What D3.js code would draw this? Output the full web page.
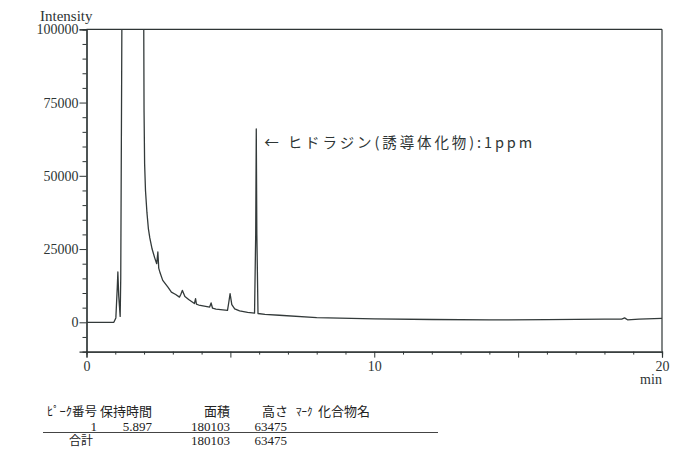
<!DOCTYPE html>
<html><head><meta charset="utf-8">
<script src="https://cdn.jsdelivr.net/npm/d3@7"></script>
<style>
html,body{margin:0;padding:0;background:#fff;}
svg{display:block;}
</style></head>
<body><svg id="c" width="680" height="451"></svg>
<script>
// ---- data ----
const timesMin = [0, 0.95, 1.02, 1.07, 1.09, 1.12, 1.17, 1.19, 1.22, 1.25, 1.95, 1.99, 2.0, 2.02, 2.05, 2.1, 2.15, 2.2, 2.28, 2.37, 2.44, 2.48, 2.51, 2.56, 2.65, 2.83, 2.95, 3.1, 3.23, 3.28, 3.33, 3.42, 3.55, 3.75, 3.79, 3.82, 3.9, 4.0, 4.28, 4.33, 4.38, 4.5, 4.9, 4.94, 4.99, 5.05, 5.15, 5.32, 5.6, 5.84, 5.88, 5.9, 5.92, 5.96, 6.2, 6.7, 8, 10, 12, 14, 16, 18, 18.6, 18.7, 18.8, 19.2, 20];
const intensity = [0, 0, 1500, 12000, 17200, 9000, 2000, 15000, 80000, 150000, 150000, 100000, 72000, 54000, 45000, 37500, 32000, 28800, 25000, 22000, 20000, 24000, 18500, 16800, 14300, 12000, 10300, 9500, 8600, 9600, 10900, 8800, 7800, 6400, 8100, 6200, 5900, 5700, 5200, 6600, 4800, 4500, 4100, 6500, 9800, 6000, 4600, 3900, 3400, 3100, 30000, 66000, 30000, 3000, 2700, 2400, 1600, 1150, 950, 800, 900, 1050, 1100, 1500, 850, 1100, 1350];
const yMajorTicks = [0, 25000, 50000, 75000, 100000];
const xLabelTicks = [0, 10, 20];
const annotation = "← ヒドラジン(誘導体化物):1ppm";
const tableHeader = ["ﾋﾟｰｸ番号", "保持時間", "面積", "高さ", "ﾏｰｸ", "化合物名"];
const peakRow = ["1", "5.897", "180103", "63475"];
const totalRow = ["合計", "180103", "63475"];

// ---- drawing ----
const svg = d3.select("#c");
const ink = "#2e3535";
const serif = "'Liberation Serif', 'DejaVu Serif', serif";
const jp = "'Noto Sans CJK JP', sans-serif";

const x = d3.scaleLinear().domain([0, 20]).range([86.5, 662]);
const y = d3.scaleLinear().domain([-10000, 100000]).range([351.6, 29.3]);

// frame (top and right)
svg.append("line").attr("x1", x(0)).attr("x2", x(20)).attr("y1", y(100000)).attr("y2", y(100000))
  .attr("stroke", ink).attr("stroke-width", 1.2);
svg.append("line").attr("x1", x(20)).attr("x2", x(20)).attr("y1", y(100000)).attr("y2", y(-10000))
  .attr("stroke", ink).attr("stroke-width", 1.2);

// y axis
const yMinor = d3.range(-10000, 100001, 5000).filter(v => !yMajorTicks.includes(v) && v > -10000);
const gyMinor = svg.append("g").attr("transform", `translate(${x(0)},0)`)
  .call(d3.axisLeft(y).tickValues(yMinor).tickSize(4).tickFormat(""));
const gy = svg.append("g").attr("transform", `translate(${x(0)},0)`)
  .call(d3.axisLeft(y).tickValues(yMajorTicks).tickSize(7).tickPadding(1).tickFormat(d3.format("d")));
[gyMinor, gy].forEach(g => {
  g.select(".domain").attr("stroke", ink).attr("stroke-width", 1.2);
  g.selectAll(".tick line").attr("stroke", ink);
});
gy.selectAll(".tick text").attr("font-family", serif).attr("font-size", 14).attr("fill", ink);

// x axis
const xMinor = d3.range(0, 21, 1).filter(v => v % 5 !== 0);
const gxMinor = svg.append("g").attr("transform", `translate(0,${y(-10000)})`)
  .call(d3.axisBottom(x).tickValues(xMinor).tickSize(3).tickFormat(""));
const gx = svg.append("g").attr("transform", `translate(0,${y(-10000)})`)
  .call(d3.axisBottom(x).tickValues([0, 5, 10, 15, 20]).tickSize(6).tickPadding(3)
    .tickFormat(d => xLabelTicks.includes(d) ? d : ""));
[gxMinor, gx].forEach(g => {
  g.select(".domain").attr("stroke", ink).attr("stroke-width", 1.2);
  g.selectAll(".tick line").attr("stroke", ink);
});
gx.selectAll(".tick text").attr("font-family", serif).attr("font-size", 14).attr("fill", ink);

svg.append("text").attr("x", 651).attr("y", 384).attr("text-anchor", "middle")
  .attr("font-family", serif).attr("font-size", 14).attr("fill", ink).text("min");
svg.append("text").attr("x", 40).attr("y", 20.5)
  .attr("font-family", serif).attr("font-size", 15).attr("fill", ink).text("Intensity");

// clip & line
svg.append("clipPath").attr("id", "clip").append("rect")
  .attr("x", x(0)).attr("y", y(100000)).attr("width", x(20) - x(0)).attr("height", y(-10000) - y(100000));
const pts = timesMin.map((t, i) => [t, intensity[i]]);
svg.append("path").datum(pts).attr("clip-path", "url(#clip)")
  .attr("fill", "none").attr("stroke", "#333a3a").attr("stroke-width", 1.3).attr("stroke-linejoin", "round")
  .attr("d", d3.line().x(d => x(d[0])).y(d => y(d[1])));

// annotation
svg.append("text").attr("x", x(5.897) + 8).attr("y", y(66000) + 19.5)
  .attr("font-family", jp).attr("font-size", 14.5).attr("fill", ink)
  .attr("letter-spacing", 2.9).text(annotation);

// table
const hy = 416, r1 = 430.5, r2 = 444.5;
const tt = (txt, xx, yy, anchor, fam, size) => svg.append("text").attr("x", xx).attr("y", yy)
  .attr("text-anchor", anchor).attr("font-family", fam).attr("font-size", size).attr("fill", "#222").text(txt);
tt(tableHeader[0], 97, hy, "end", jp, 12.5);
tt(tableHeader[1], 152, hy, "end", jp, 13);
tt(tableHeader[2], 230, hy, "end", jp, 13);
tt(tableHeader[3], 288, hy, "end", jp, 13);
tt(tableHeader[4], 296, hy, "start", jp, 11);
tt(tableHeader[5], 318, hy, "start", jp, 13);
tt(peakRow[0], 97, r1, "end", serif, 13);
tt(peakRow[1], 152, r1, "end", serif, 13);
tt(peakRow[2], 230, r1, "end", serif, 13);
tt(peakRow[3], 287, r1, "end", serif, 13);
svg.append("line").attr("x1", 43).attr("x2", 438).attr("y1", 432.5).attr("y2", 432.5)
  .attr("stroke", "#444").attr("stroke-width", 1);
tt(totalRow[0], 81, r2, "middle", jp, 12);
tt(totalRow[1], 230, r2, "end", serif, 13);
tt(totalRow[2], 287, r2, "end", serif, 13);
</script></body></html>
